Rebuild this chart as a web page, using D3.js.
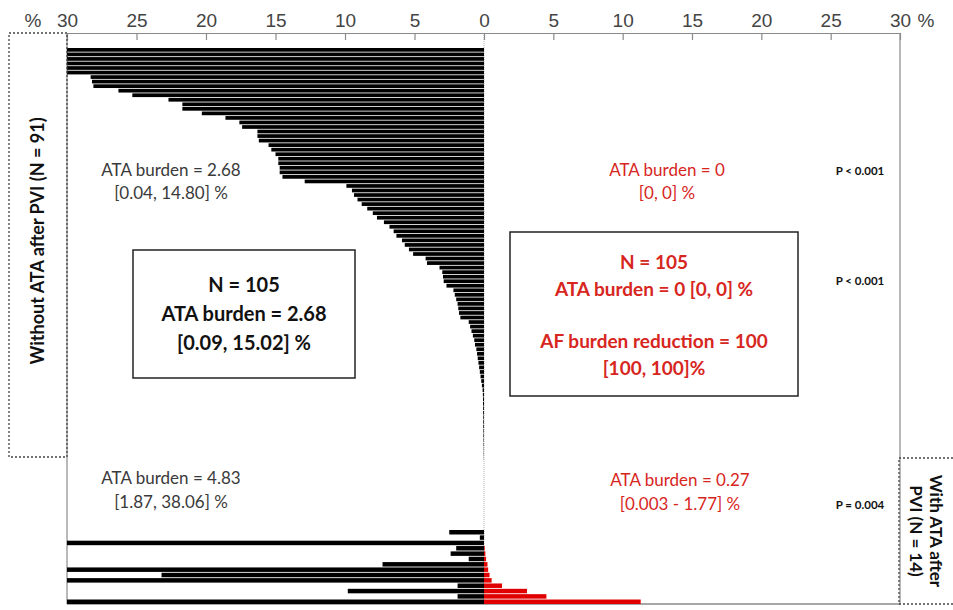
<!DOCTYPE html>
<html>
<head>
<meta charset="utf-8">
<script src="https://cdn.jsdelivr.net/npm/d3@7"></script>
<style>
  body { margin: 0; background: #fff; }
  svg { display: block; }
</style>
</head>
<body>
<svg id="chart" width="953" height="610"></svg>
<script>
// burden per patient, sorted; left side (black) and right side (red)
var tickValues = [0, 5, 10, 15, 20, 25, 30];

var noAtaLeft = [30, 30, 30, 30, 30, 30, 28.3, 28.2, 28.1, 26.3,
  25.3, 22.7, 21.7, 21.7, 20.3, 18.6, 17.6, 17.4, 16.3, 16.3,
  16.2, 15.5, 15.3, 15.0, 14.8, 14.8, 14.7, 14.7, 14.5, 12.9,
  9.9, 9.5, 9.35, 9.1, 8.8, 8.4, 8.0, 7.7, 7.2, 6.8,
  6.5, 6.3, 5.9, 5.7, 5.4, 5.1, 4.2, 4.1, 3.2, 3.0,
  2.95, 2.9, 2.7, 2.2, 2.1, 2.0, 1.9, 1.85, 1.8, 1.7,
  1.1, 1.0, 0.9, 0.8, 0.7, 0.65, 0.55, 0.5, 0.45, 0.4,
  0.35, 0.3, 0.25, 0.2, 0.15, 0.1, 0.08, 0.07, 0.07, 0.06,
  0.06, 0.05, 0.05, 0.05, 0.04, 0.04, 0.03, 0.03, 0.02, 0.02, 0.01];

var withAtaLeft = [2.5, 0.3, 30, 2.0, 2.4, 1.1, 7.3, 30, 23.2, 30, 1.9, 9.8, 1.9, 30];
var withAtaRight = [0, 0, 0, 0.05, 0.1, 0.15, 0.25, 0.3, 0.4, 0.55, 1.3, 3.1, 4.5, 11.3];

var svg = d3.select('#chart');
var axisY = 33, bottomY = 604;

var xL = d3.scaleLinear().domain([0, 30]).range([484, 67]);
var xR = d3.scaleLinear().domain([0, 30]).range([484, 900]);

var yTop = d3.scaleBand().domain(d3.range(noAtaLeft.length)).range([48, 460]).paddingInner(0.18);
var yBot = d3.scaleBand().domain(d3.range(withAtaLeft.length)).range([530, 604]).paddingInner(0.16);

var gray = '#8a8a8a';

// frame
svg.append('line').attr('x1', 67).attr('x2', 67).attr('y1', axisY).attr('y2', bottomY)
  .attr('stroke', gray).attr('stroke-width', 1.2);
svg.append('line').attr('x1', 900).attr('x2', 900).attr('y1', axisY).attr('y2', bottomY)
  .attr('stroke', gray).attr('stroke-width', 1.2);
svg.append('line').attr('x1', 67).attr('x2', 900).attr('y1', bottomY).attr('y2', bottomY)
  .attr('stroke', gray).attr('stroke-width', 1.5);
svg.append('line').attr('x1', 484).attr('x2', 484).attr('y1', axisY).attr('y2', bottomY)
  .attr('stroke', '#999').attr('stroke-width', 0.8).attr('stroke-dasharray', '1,1');

function clip(v) { return Math.min(v, 30); }

// bars
svg.append('g').selectAll('rect').data(noAtaLeft).join('rect')
  .attr('x', function (d) { return xL(clip(d)); })
  .attr('width', function (d) { return xL(0) - xL(clip(d)); })
  .attr('y', function (d, i) { return yTop(i); })
  .attr('height', yTop.bandwidth())
  .attr('fill', '#000');

svg.append('g').selectAll('rect').data(withAtaLeft).join('rect')
  .attr('x', function (d) { return xL(clip(d)); })
  .attr('width', function (d) { return xL(0) - xL(clip(d)); })
  .attr('y', function (d, i) { return yBot(i); })
  .attr('height', yBot.bandwidth())
  .attr('fill', '#000');

svg.append('g').selectAll('rect').data(withAtaRight).join('rect')
  .attr('x', xR(0))
  .attr('width', function (d) { return xR(clip(d)) - xR(0); })
  .attr('y', function (d, i) { return yBot(i); })
  .attr('height', yBot.bandwidth())
  .attr('fill', '#e00000');

// top axes
var axL = d3.axisTop(xL).tickValues(tickValues).tickSizeInner(-7).tickSizeOuter(0).tickPadding(6);
var axR = d3.axisTop(xR).tickValues(tickValues.slice(1)).tickSizeInner(-7).tickSizeOuter(0).tickPadding(6);
[axL, axR].forEach(function (ax) {
  var g = svg.append('g').attr('transform', 'translate(0,' + axisY + ')').call(ax);
  g.select('.domain').attr('stroke', gray).attr('stroke-width', 1.2);
  g.selectAll('.tick line').attr('stroke', gray).attr('stroke-width', 1.2);
  g.selectAll('.tick text').attr('fill', '#444')
    .style('font-family', 'Liberation Sans, Arial, sans-serif').style('font-size', '19px');
});
svg.append('text').attr('x', 33).attr('y', 27).attr('text-anchor', 'middle')
  .attr('fill', '#444').style('font-family', 'Liberation Sans, Arial, sans-serif').style('font-size', '19px').text('%');
svg.append('text').attr('x', 926).attr('y', 27).attr('text-anchor', 'middle')
  .attr('fill', '#444').style('font-family', 'Liberation Sans, Arial, sans-serif').style('font-size', '19px').text('%');

// group label boxes
svg.append('rect').attr('x', 9).attr('y', axisY).attr('width', 58).attr('height', 424)
  .attr('fill', 'none').attr('stroke', '#444').attr('stroke-width', 1.3).attr('stroke-dasharray', '2,2');
svg.append('text').attr('transform', 'translate(44,241) rotate(-90)').attr('text-anchor', 'middle')
  .style('font-family', 'Lato, sans-serif').style('font-weight', 'bold').style('font-size', '18px')
  .attr('fill', '#111').text('Without ATA after PVI (N = 91)');

svg.append('rect').attr('x', 899).attr('y', 458).attr('width', 60).attr('height', 146)
  .attr('fill', 'none').attr('stroke', '#444').attr('stroke-width', 1.3).attr('stroke-dasharray', '2,2');
var rl = svg.append('text').attr('transform', 'translate(921,531) rotate(90)').attr('text-anchor', 'middle')
  .style('font-family', 'Lato, sans-serif').style('font-weight', 'bold').style('font-size', '17px').attr('fill', '#111');
rl.append('tspan').attr('x', 0).attr('dy', '-0.55em').text('With ATA after');
rl.append('tspan').attr('x', 0).attr('dy', '1.2em').text('PVI (N = 14)');

// annotations
function note(x, y, lines, opts) {
  var t = svg.append('text').attr('x', x).attr('y', y).attr('text-anchor', 'middle')
    .style('font-family', 'Lato, sans-serif')
    .style('font-size', opts.size + 'px')
    .style('font-weight', opts.bold ? 'bold' : 'normal')
    .attr('fill', opts.color);
  lines.forEach(function (l, i) {
    t.append('tspan').attr('x', x).attr('dy', i === 0 ? 0 : opts.lh).text(l);
  });
}

var grayTxt = '#3a3a3a', red = '#d7261e';
note(171, 176, ['ATA burden = 2.68', '[0.04, 14.80] %'], { size: 17, color: grayTxt, lh: 23 });
note(171, 484, ['ATA burden = 4.83', '[1.87, 38.06] %'], { size: 17, color: grayTxt, lh: 24 });
note(667, 176, ['ATA burden = 0', '[0, 0] %'], { size: 17, color: red, lh: 23 });
note(680, 486, ['ATA burden = 0.27', '[0.003 - 1.77] %'], { size: 17, color: red, lh: 24 });

note(860, 175, ['P < 0.001'], { size: 11.5, bold: true, color: '#111', lh: 0 });
note(860, 285, ['P < 0.001'], { size: 11.5, bold: true, color: '#111', lh: 0 });
note(860, 509, ['P = 0.004'], { size: 11.5, bold: true, color: '#111', lh: 0 });

svg.append('rect').attr('x', 133).attr('y', 250).attr('width', 222).attr('height', 128)
  .attr('fill', '#fff').attr('stroke', '#222').attr('stroke-width', 1.5);
note(244, 292, ['N = 105', 'ATA burden = 2.68', '[0.09, 15.02] %'], { size: 20, bold: true, color: '#111', lh: 29 });

svg.append('rect').attr('x', 510).attr('y', 232).attr('width', 288).attr('height', 164)
  .attr('fill', '#fff').attr('stroke', '#222').attr('stroke-width', 1.5);
note(654, 269, ['N = 105', 'ATA burden = 0 [0, 0] %'], { size: 19, bold: true, color: red, lh: 27 });
note(654, 348, ['AF burden reduction = 100', '[100, 100]%'], { size: 19, bold: true, color: red, lh: 27 });
</script>
</body>
</html>
